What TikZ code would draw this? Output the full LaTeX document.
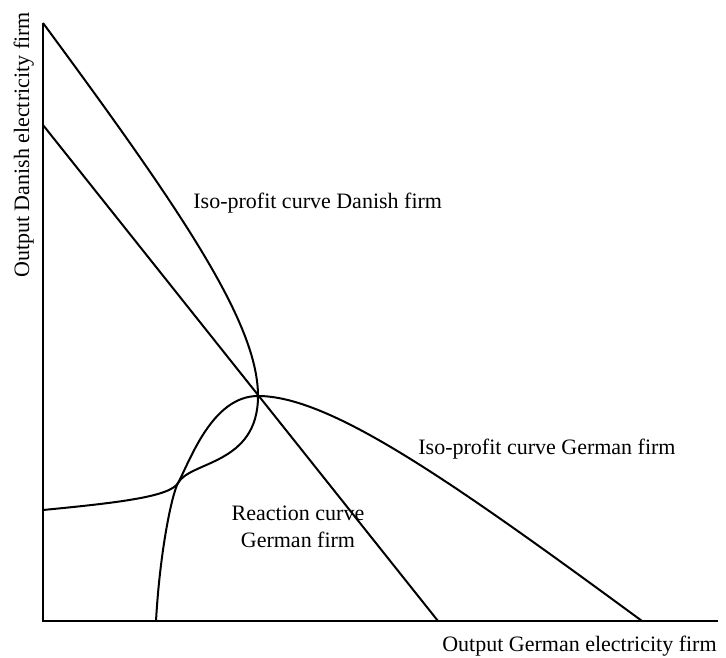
\documentclass[tikz,border=0pt]{standalone}
\usepackage{fontspec}
\setmainfont{Liberation Serif}
\usetikzlibrary{positioning}

\begin{document}
\begin{tikzpicture}[
  x=0.5pt, y=-0.5pt,
  font=\fontsize{11}{13.5}\selectfont,
  axisline/.style={black, line width=1pt},
  curveline/.style={black, line width=1pt, line join=round},
  lbl/.style={inner sep=0pt},
]
\useasboundingbox (0,0) rectangle (726,657);

% ---------------- axes ----------------
\coordinate (origin) at (43,621);
\coordinate (ytop) at (43,23);
\coordinate (xend) at (718,621);
\draw[axisline] (ytop) -- (origin) -- (xend);

% ---------------- reaction curve (straight) ----------------
\coordinate (rstart) at (43,125);
\coordinate (rend) at (438,621);
\coordinate (nash) at (258,396);
\draw[curveline] (rstart) -- (rend);

% ---------------- iso-profit curves ----------------
\coordinate (cross) at (178,483);
% Danish firm: vertical tangent at the crossing point
\draw[curveline] (ytop) .. controls (184,214) and (258,324) .. (nash)
  .. controls (258,465) and (190,461) .. (cross)
  .. controls (172,494) and (160,550) .. (156,621);
% German firm: horizontal tangent at the crossing point
\draw[curveline] (43,510) .. controls (115,503) and (170,497) .. (cross)
  .. controls (190,461) and (212,396) .. (nash)
  .. controls (330,396) and (450,480) .. (642,621);

% ---------------- labels ----------------
\node[lbl, anchor=base west] (isoDK) at (193,209) {Iso-profit curve Danish firm};
\node[lbl, anchor=base west] (isoDE) at (418,454) {Iso-profit curve German firm};
\node[lbl, anchor=base, align=center] (react) at (298,547) {Reaction curve\\German firm};
\node[lbl, anchor=base east] (xlab) at (717,651) {Output German electricity firm};
\node[lbl, anchor=base, rotate=90] (ylab) at (29,145) {Output Danish electricity firm};

\end{tikzpicture}
\end{document}
